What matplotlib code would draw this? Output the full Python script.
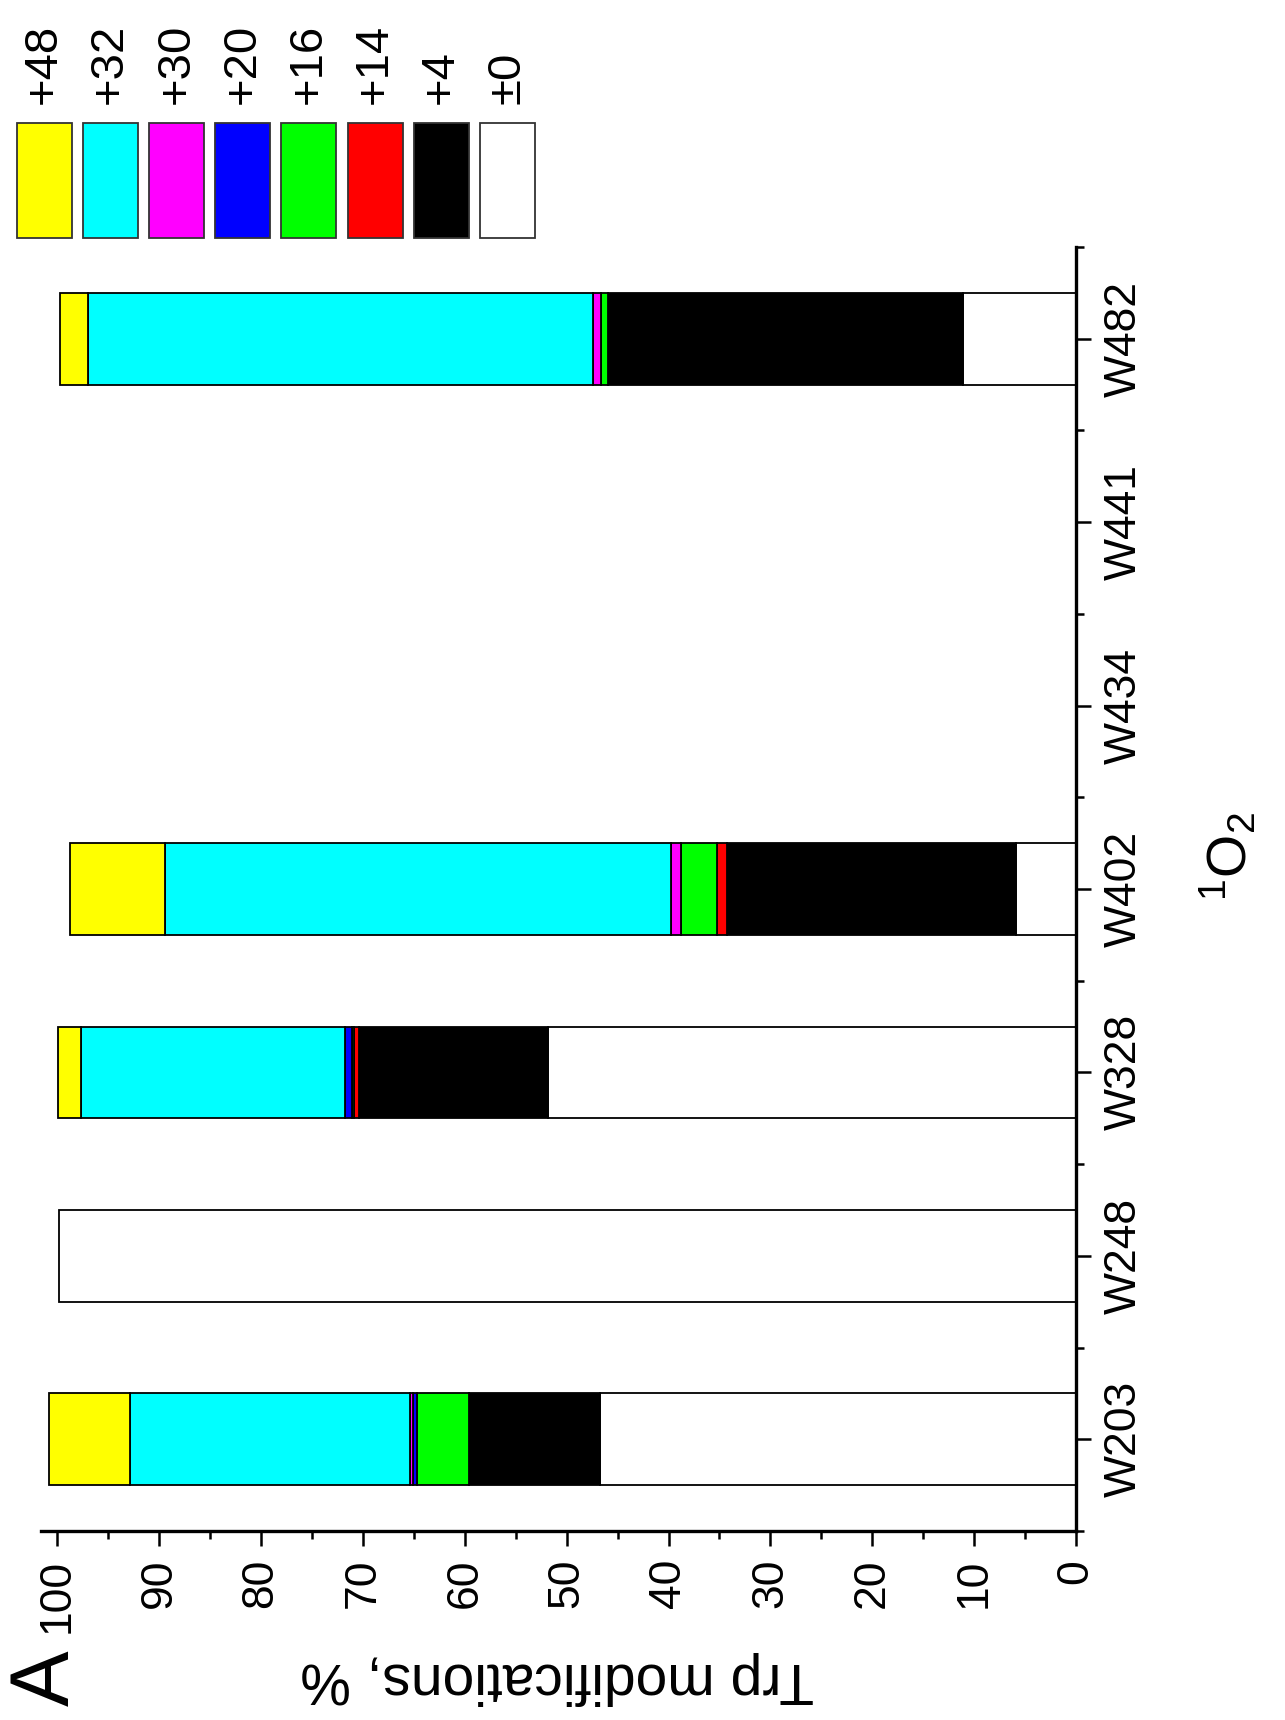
import matplotlib
matplotlib.use('Agg')
import matplotlib.pyplot as plt
import numpy as np
from matplotlib.patches import Rectangle

plt.rcParams['font.family'] = ['Liberation Sans Narrow', 'Liberation Sans', 'DejaVu Sans']

# tryptophan sites, bottom to top
sites = ['W203', 'W248', 'W328', 'W402', 'W434', 'W441', 'W482']

# modification labels and fill colours, stacked outward from 0
mods = ['±0', '+4', '+14', '+16', '+20', '+30', '+32', '+48']
colors = ['white', 'black', 'red', '#00ff00', 'blue', 'magenta', 'cyan', 'yellow']

# % of each site per modification
unmod = [46.7, 99.8, 51.8, 5.9, 0, 0, 11.1]
plus4 = [12.9, 0, 18.6, 28.4, 0, 0, 34.8]
plus14 = [0, 0, 0.5, 0.9, 0, 0, 0]
plus16 = [5.1, 0, 0.2, 3.6, 0, 0, 0.7]
plus20 = [0.4, 0, 0.7, 0, 0, 0, 0]
plus30 = [0.3, 0, 0, 1.0, 0, 0, 0.8]
plus32 = [27.5, 0, 25.9, 49.6, 0, 0, 49.6]
plus48 = [7.9, 0, 2.2, 9.4, 0, 0, 2.7]

series = [unmod, plus4, plus14, plus16, plus20, plus30, plus32, plus48]

W, H = 1285, 1720
fig = plt.figure(figsize=(W / 100, H / 100), dpi=100)
ax = fig.add_axes([41 / W, 1 - 1531 / H, 1035 / W, 1284 / H])

y = np.arange(len(sites))
left = np.zeros(len(sites))
for vals, c in zip(series, colors):
    vals = np.array(vals, dtype=float)
    m = vals > 0
    ax.barh(y[m], vals[m], left=left[m], height=0.5, color=c,
            edgecolor='black', linewidth=1.3)
    left += vals

ax.set_xlim(101.6, 0)
ax.set_ylim(-0.5, 6.5)

for s in ['top', 'left']:
    ax.spines[s].set_visible(False)
for s in ['right', 'bottom']:
    ax.spines[s].set_linewidth(2.4)

ax.yaxis.tick_right()
ax.set_yticks(y)
ax.set_yticklabels(sites, rotation=90, va='center', fontsize=32)
ax.set_yticks(np.arange(-0.5, 6.6, 1), minor=True)

ax.set_xticks(np.arange(0, 101, 10))
ax.set_xticklabels([str(v) for v in range(0, 101, 10)], rotation=90, fontsize=32)
ax.set_xticks(np.arange(5, 100, 10), minor=True)

ax.tick_params(which='major', direction='out', length=11, width=1.8, pad=9)
ax.tick_params(which='minor', direction='out', length=6, width=1.8)

ax.set_xlabel('Trp modifications, %', rotation=180, fontsize=41,
              family=['Liberation Sans', 'DejaVu Sans'], va='center', ha='center')
ax.xaxis.set_label_coords(0.4986, -0.1145)

ax.yaxis.set_label_position('right')
ax.set_ylabel(r'$\mathregular{^1O_2}$', rotation=90, fontsize=40,
              family=['Liberation Sans', 'DejaVu Sans'], va='center', ha='center')
ax.yaxis.set_label_coords(1.148, 0.525)

fig.text(47 / W, 1 - 1678 / H, 'A', rotation=90, fontsize=60,
         family=['Liberation Sans', 'DejaVu Sans'], ha='center', va='center')

# legend: colour boxes with rotated labels above them, +48 first
for i, (lab, c) in enumerate(zip(mods[::-1], colors[::-1])):
    x0 = 16.5 + i * 66.2
    fig.add_artist(Rectangle((x0 / W, 1 - 238 / H), 55 / W, 115 / H,
                             transform=fig.transFigure, facecolor=c,
                             edgecolor='#333333', linewidth=1.3))
    fig.text((x0 + 27.5) / W, 1 - 104 / H, lab, rotation=90, fontsize=34,
             family=['Liberation Sans', 'DejaVu Sans'], ha='center', va='bottom')

fig.savefig('out.png', dpi=100)
